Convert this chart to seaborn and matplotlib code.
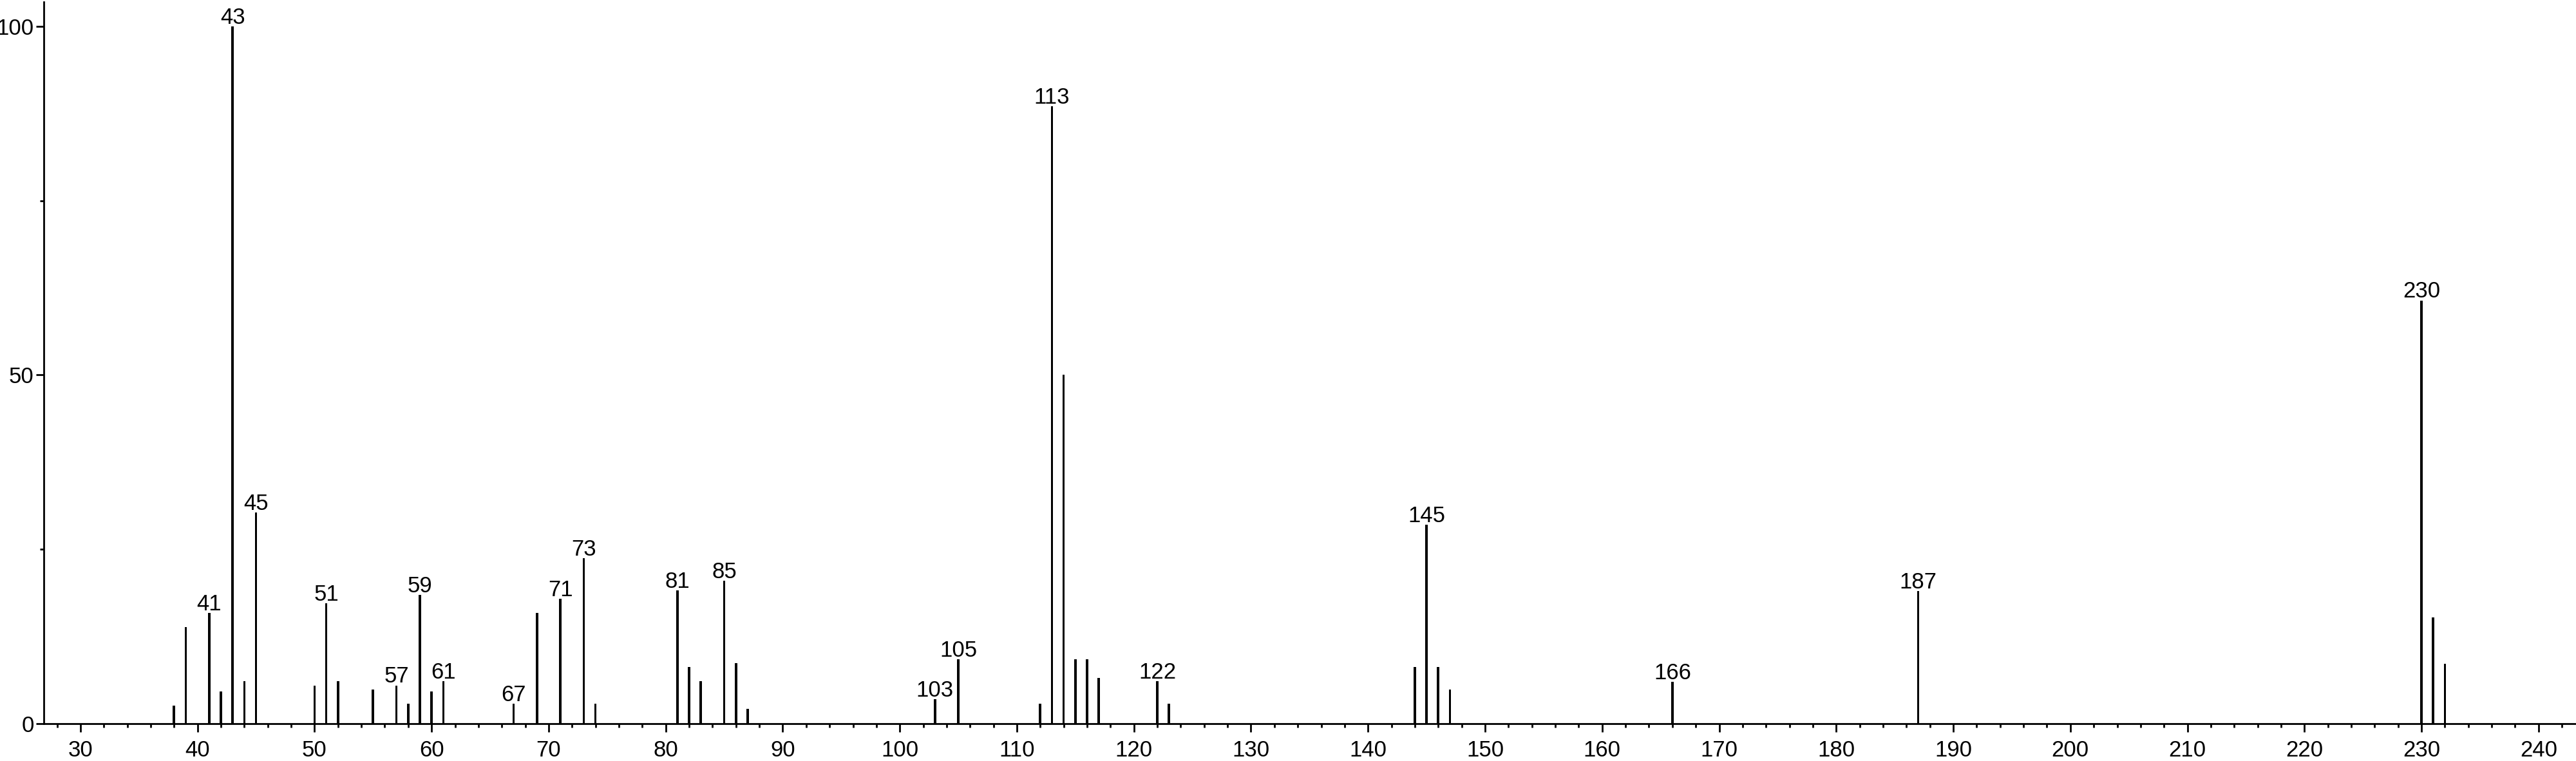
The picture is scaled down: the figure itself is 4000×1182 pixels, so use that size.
import numpy as np
import pandas as pd
import matplotlib
matplotlib.use("Agg")
import matplotlib.pyplot as plt
import seaborn as sns
from matplotlib.ticker import MultipleLocator

# 质谱峰：m/z 与相对丰度
mz = [38, 39, 41, 42, 43, 44, 45, 50, 51, 52, 55, 57, 58, 59, 60, 61,
      67, 69, 71, 73, 74, 81, 82, 83, 85, 86, 87, 103, 105, 112, 113,
      114, 115, 116, 117, 122, 123, 144, 145, 146, 147, 166, 187, 230,
      231, 232]
intensity = [2.6, 13.9, 15.9, 4.6, 100, 6.1, 30.3, 5.5, 17.3, 6.1, 4.9,
             5.5, 2.9, 18.5, 4.6, 6.1, 2.9, 15.9, 17.9, 23.7, 2.9, 19.1,
             8.1, 6.1, 20.5, 8.7, 2.1, 3.5, 9.2, 2.9, 88.5, 50.0, 9.2,
             9.2, 6.6, 6.1, 2.9, 8.1, 28.5, 8.1, 4.9, 6.0, 19.0, 60.7,
             15.2, 8.6]
labeled_mz = [41, 43, 45, 51, 57, 59, 61, 67, 71, 73, 81, 85, 103, 105,
              113, 122, 145, 166, 187, 230]

x_ticks = list(range(30, 241, 10))
y_ticks = [0, 50, 100]

sns.set_theme(style="ticks")
plt.rcParams['font.family'] = ['Liberation Sans', 'DejaVu Sans']

df = pd.DataFrame({'mz': mz, 'intensity': intensity})

fig = plt.figure(figsize=(40, 11.82), dpi=100)
ax = fig.add_axes([0.017, 0.049, 0.983, 0.9485])

sns.barplot(data=df, x='mz', y='intensity', native_scale=True, width=0.2,
            color='black', saturation=1, linewidth=0, ax=ax)

# 峰标注
for m, v in zip(mz, intensity):
    if m in labeled_mz:
        ax.annotate(str(m), xy=(m, v), xytext=(0, 3), textcoords='offset points',
                    ha='center', va='baseline', fontsize=25, color='black')

ax.set_xlim(26.87, 243.2)
ax.set_ylim(0, 103.5)
ax.set_xticks(x_ticks)
ax.set_yticks(y_ticks)
ax.xaxis.set_minor_locator(MultipleLocator(2))
ax.yaxis.set_minor_locator(MultipleLocator(25))
ax.tick_params(axis='both', which='major', labelsize=25, length=9, width=2,
               color='black', labelcolor='black')
ax.tick_params(axis='x', which='major', pad=9)
ax.tick_params(axis='y', which='major', pad=2)
ax.tick_params(axis='both', which='minor', length=4.5, width=2, color='black')
ax.set_xlabel('')
ax.set_ylabel('')

sns.despine(ax=ax)
for side in ['left', 'bottom']:
    ax.spines[side].set_linewidth(2)
    ax.spines[side].set_color('black')

fig.savefig('out.png', dpi=100, facecolor='white')
plt.close(fig)
